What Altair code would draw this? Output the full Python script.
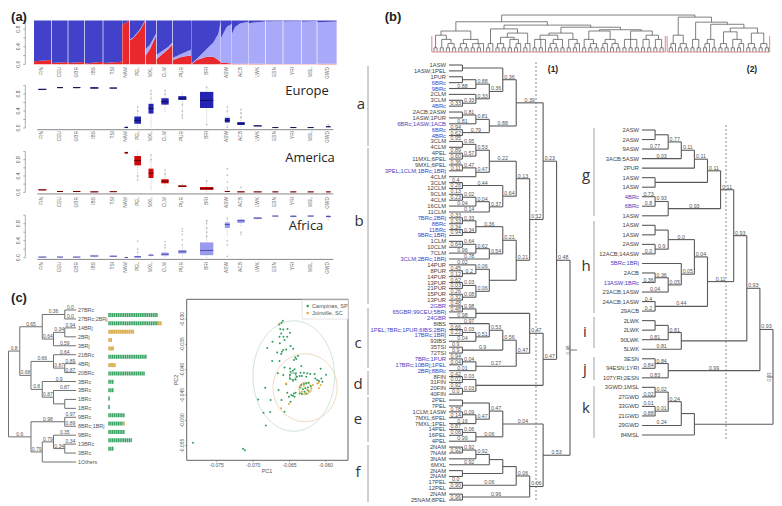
import math
import altair as alt
import pandas as pd

alt.data_transformers.disable_max_rows()

FONT = "Liberation Sans"
W, H = 766, 496
BLUE = "#4343c4"

def N(level, label, *kids):
    return ("node", level, label, kids)

def T(name, label=""):
    return ("tip", 0, label, name)

# ---------- panel (a) values ----------
POPS = ["FIN","CEU","GBR","IBS","TSI","NAM","PEL","MXL","CLM","PUR","BRI","ASW","ACB","LWK","ESN","YRI","MSL","GWD"]
POP_POS = [127,180,230,283,340,379,413,453,495,547,620,682,723,773,826,880,932,985]
BOX_W = [24,18,22,24,22,10,20,15,22,24,40,15,22,24,18,18,18,14]

STACK_POP = ["FIN","FIN","CEU","CEU","GBR","GBR","IBS","IBS","TSI","TSI","NAM","NAM",
             "PEL","PEL","PEL","PEL","MXL","MXL","MXL","CLM","CLM","CLM","CLM","PUR","PUR","PUR",
             "BRI","BRI","BRI","BRI","BRI","BRI","ASW","ASW","ASW","ACB","ACB","ACB","ACB",
             "LWK","LWK","ESN","ESN","YRI","YRI","MSL","MSL","GWD","GWD"]
STACK_X = [102,153,155,203,205,253,255,308,310,366,367,388,
           390,400,420,435,437,450,468,470,490,505,517,519,545,573,
           574,590,620,640,655,662,663,680,695,696,705,720,745,
           746,795,797,848,850,903,905,950,952,1010]
STACK_RED = [.07,.10,.03,.05,.03,.05,.02,.06,.03,.06,.90,1.0,
             .55,.60,.78,.98,.20,.35,.65,.12,.25,.35,.45,.10,.17,.20,
             .0,.10,.17,.17,.10,.05,.03,.03,.02,.02,.01,.01,.01,
             .01,.01,.005,.005,.005,.005,.005,.005,.01,.01]
STACK_LIGHT = [.07,.10,.03,.05,.03,.05,.02,.06,.03,.06,.90,1.0,
               .57,.62,.80,1.0,.35,.45,.70,.22,.32,.40,.50,.15,.24,.33,
               .02,.12,.35,.50,.70,.97,.60,.85,.92,.70,.85,.93,.97,
               .94,.98,.98,.99,.98,.99,.97,.99,.96,.975]

EUROPE = [(.90,.91,.92,.88,.93),(.94,.95,.96,.93,.97),(.94,.95,.96,.92,.97),(.93,.94,.96,.90,.97),(.93,.94,.95,.92,.96),
          (0,.01,.03,0,.05),(.10,.18,.27,0,.5),(.34,.46,.57,.02,.88),(.55,.62,.70,.38,.88),(.66,.70,.75,.24,.86),
          (.47,.65,.85,.08,.96),(.13,.18,.24,.02,.5),(.07,.10,.14,.02,.44),(.04,.05,.06,.03,.07),(.01,.01,.02,0,.03),
          (.01,.01,.02,0,.03),(.005,.01,.015,0,.02),(.02,.03,.035,.01,.08)]
AMERICA = [(.05,.06,.07,.03,.09),(.01,.02,.03,0,.03),(.01,.02,.03,0,.04),(.005,.01,.02,0,.03),(.01,.015,.02,0,.03),
           (.95,.97,.99,.9,1),(.66,.78,.89,.3,1),(.35,.47,.58,.05,.92),(.22,.27,.32,.1,.55),(.13,.15,.17,.08,.24),
           (.06,.09,.13,0,.28),(.01,.02,.03,0,.1),(.005,.01,.02,0,.05),(.005,.01,.015,0,.02),(.005,.01,.015,0,.02),
           (.005,.01,.015,0,.02),(.005,.01,.015,0,.02),(.005,.01,.015,0,.02)]
AFRICA = [(.01,.015,.02,0,.03),(.01,.015,.02,0,.03),(.01,.015,.02,0,.03),(.03,.04,.05,.01,.07),(.03,.035,.045,.01,.05),
          (0,.005,.01,0,.03),(.005,.02,.04,0,.1),(.05,.06,.07,.03,.1),(.05,.08,.12,.01,.22),(.1,.14,.18,.03,.27),
          (.06,.17,.36,0,.75),(.70,.78,.83,.52,.93),(.82,.87,.90,.75,.95),(.92,.93,.95,.9,.96),(.97,.98,.99,.96,1),
          (.96,.975,.99,.94,1),(.97,.98,.99,.96,1),(.95,.97,.99,.88,1)]
OUT_EUROPE = {"PUR":[.24,.3,.4,.55],"MXL":[.7,.8,.88],"PEL":[.4,.5],"CLM":[.8,.88],"BRI":[.96,.08],"ASW":[.02,.4,.5],"ACB":[.25,.35,.44],"GWD":[.08]}
OUT_AMERICA = {"ASW":[.12,.25,.42,.58],"BRI":[.28],"ACB":[.12],"PEL":[.3,.4],"CLM":[.45,.55],"MXL":[.8,.92]}
OUT_AFRICA = {"PEL":[.13,.2,.39],"CLM":[.25,.3,.38],"PUR":[.3,.42,.55,.62,.68],"BRI":[.5,.6,.7,.8,.85,.88],"ASW":[.03,.3,.4,.93],"ACB":[.55,.6]}

# ---------- panel (b) trees ----------
TREE1A = N(5,"0.39",
    N(4,"0.36", N(1,"",T("1ASW"),T("1ASW;1PEL")),
        N(3,"0.36",
          N(2,"0.88",N(1,"",T("1PUR"),T("6BRc")),T("9BRc","0.88")),
          N(2,"0.33",T("2CLM"),N(1,"0.33",T("3CLM"),T("4BRc","0.33"))))),
    N(3,"0.88",
      N(2,"0.81",N(1,"0.81",T("2ACB;2ASW"),T("1ASW;1PUR")),T("6BRc;1ASW;1ACB","0.81")),
      N(1,"0.79",T("6BRc","0.94"),T("4BRc","0.62"))))
TREE1B = N(5,"0.13",
    N(3,"0.22",
      N(2,"0.53",N(1,"0.95",T("3CLM","0.95"),T("4CLM")),N(1,"0.57",T("4PEL","0.89"),T("11MXL;6PEL","0.60"))),
      N(2,"0.47",N(1,"0.47",T("9MXL;6PEL","0.36"),T("3PEL;1CLM;1BRc;1BRj","0.11")),T("4CLM"))),
    N(4,"0.64",N(1,"0.44",T("3CLM","0.4"),T("12CLM","0.26")),
      N(3,"0.37",N(2,"0.04",N(1,"0.02",T("9CLM","0.13"),T("4CLM","0.23")),T("16CLM","0.04")),T("11CLM","0.14"))))
TREE1C = N(5,"0.21",
    N(4,"0.21",
      N(2,"0.36",N(1,"0.33",T("7BRc;2BRj","0.33"),T("8BRc","0.33")),N(1,"0.34",T("11BRc","0.34"),T("9BRc;1BRj","0.94"))),
      N(3,"0.54",N(2,"0.62",N(1,"0.64",T("1CLM"),T("10CLM","0.64")),T("7CLM","0.96")),T("3CLM;2BRc;1BRj","0.78"))),
    N(3,"",
      N(2,"0.06",T("14PUR","0.02"),N(1,"0.2",T("8PUR","0.45"),T("14PUR","0.12"))),
      N(2,"0.06",N(1,"0.03",T("13PUR","0.62"),T("21PUR","0.03")),N(1,"0.08",T("15PUR","0.26"),T("13PUR","0.32")))))
TREE1D = N(5,"0.47",
    N(4,"0.56",
      N(3,"0.53",T("8IBS","0.97"),
        N(2,"0.51",N(1,"0.03",T("1PEL;7BRc;1PUR;6IBS;2BRj","0.66"),T("17BRc;1BRj","0.22")),T("93IBS","0.04"))),
      N(1,"0.9",T("35TSI","0.9"),T("72TSI","0.9"))),
    N(2,"0.27",N(1,"0.04",T("7BRc;1PUR","0.94"),T("17BRc;10BRj;1PEL","0.04")),T("2BRj;8BRc","0.01")))
TREE1E = N(2,"",
    N(1,"0.03",T("8FIN","0.42"),T("31FIN","0.02")),
    N(1,"0.03",T("20FIN","0.92"),T("40FIN","0.0")))
TREE1F = N(4,"0.04",
    N(3,"0.47",N(1,"",T("2PEL"),T("7PEL")),
      N(2,"0.47",N(1,"0.09",T("1CLM;1ASW","0.78"),T("7MXL;6PEL","0.14")),T("7MXL;1PEL","0.16"))),
    N(2,"0.06",N(1,"0.06",T("14PEL","0.87"),T("16PEL","0.06")),T("4PEL","0.99")))
TREE1G = N(6,"0.06",
    N(5,"0.06",
      N(4,"",N(3,"",N(2,"0.92",N(1,"0.92",T("2NAM"),T("7NAM","0.92")),T("3NAM")),T("6MXL","0.92")),
        N(1,"",T("2NAM"),T("2NAM"))),
      N(1,"0.06",T("17PEL","0.0"),T("12PEL","0.90"))),
    N(1,"0.96",T("2NAM"),T("25NAM;8PEL","0.96")))
TREE1 = N(9,"",
    N(8,"0.48",
      N(7,"0.23",TREE1A,N(6,"0.12",TREE1B,TREE1C)),
      N(7,"0.47",N(6,"0.47",N(2,"",N(1,"0.98",T("2GBR","0.48"),T("65GBR;99CEU;5BRj","0.48")),T("24GBR","0.98")),TREE1D),TREE1E)),
    N(7,"0.53",TREE1F,TREE1G))

TREE2 = N(10,"",
  N(9,"0.93",
    N(8,"0.93",
      N(7,"0.93",
        N(6,"0.11",
          N(5,"0.11",
            N(4,"0.11",N(3,"0.11",N(2,"0.77",N(1,"",T("2ASW"),T("2ASW")),T("9ASW","0.77")),T("3ACB;5ASW","0.03")),T("2PUR")),
            N(1,"",T("1ASW"),T("1ASW"))),
          N(2,"0.93",N(1,"0.93",T("4BRc","0.73"),T("6BRc","0.8")),T("1ASW"))),
        N(5,"0.11",
          N(4,"0.04",
            N(2,"0.0",N(1,"",T("1ASW"),T("1ASW")),N(1,"0.9",T("2ASW"),T("12ACB;14ASW","0.0"))),
            N(3,"0.05",T("5BRc;1BRj"),N(2,"0.05",N(1,"0.36",T("2ACB"),T("13ASW;1BRc","0.36")),T("23ACB;1ASW","0.04")))),
          N(1,"0.44",T("24ACB;1ASW","0.4"),T("29ACB","0.2")))),
      N(3,"",N(2,"0.81",N(1,"",T("2LWK"),T("2LWK")),T("90LWK","0.81")),T("5LWK","0.81"))),
    N(2,"0.99",N(1,"0.84",T("3ESN"),T("94ESN;1YRI","0.84")),T("107YRI;2ESN","0.83"))),
  N(4,"",
    N(3,"",N(2,"0.24",N(1,"0.02",T("3GWD;1MSL"),T("27GWD","0.02")),N(1,"0.01",T("33GWD","0.01"),T("21GWD","0.88"))),T("29GWD","0.24")),
    T("84MSL")))

def C(): return (1,[0,0])
def N2a(): return (2,[C(),0])
def N2b(): return (2,[C(),C()])
TOP_A = (5,[(4,[C(),(3,[C(),N2b()])]),(3,[N2b(),(2,[C(),C(),0])])])
TOP_B = (5.5,[N2a(),(4.5,[(3.5,[N2b(),(3,[C(),N2a()])]),N2a()])])
TOP_C = (4.5,[(4,[(3,[C(),C(),0]),(3,[N2b(),C()])]),(3,[C(),N2a()])])
TOP_D = (5,[(3,[C(),N2b()]),(3,[N2a(),N2b()])])
TOP_E = (5,[(3,[C(),C(),C()]),(4,[(3,[C(),C()]),(3,[C(),C()])])])
TOP_L = (7.2,[TOP_A,(6.4,[TOP_B,(5.9,[TOP_C,(5.3,[TOP_D,TOP_E])])])])
TOP_R = (8.3,[(4,[N2a(),N2b()]),(7.1,[(3,[C(),C()]),(6.6,[(3,[N2a(),C()]),(5.7,[(4.8,[N2b(),(3,[C(),N2a()])]),(4.5,[N2b(),N2b()])])])])])
TOP_H = 8.8

# ---------- panel (c) values ----------
C_TREE = N(6,"",
  N(5,"0.8",
    N(3,"0.65",
      N(1,"0.36",T("27BRc","0.0"),T("27BRc;2BRj","0.0")),
      N(2,"0.64",N(1,"0.34",T("14BRj","0.94"),T("2BRj")),T("3BRj","0.59"))),
    N(4,"0.68",
      N(2,"0.66",T("21BRc","0.64"),N(1,"0.87",T("4BRj","0.89"),T("20BRc","0.87"))),
      N(3,"0.8",T("3BRc","0.9"),N(2,"0.87",T("3BRc","0.87"),N(1,"",T("1BRc"),T("1BRc")))))),
  N(4,"0.6",
    N(1,"0.98",T("9BRc","0.97"),T("8BRc;1BRj","0.89")),
    N(3,"0.79",N(2,"0.79",T("9BRc","0.35"),N(1,"0.34",T("13BRc","0.34"),T("3BRc"))),T("1Others"))))
C_GREEN = [27,27,0,0,0,21,0,20,3,3,1,1,9,8,9,13,3,0]
C_ORANGE = [0,2,14,2,3,0,4,0,0,0,0,0,0,1,0,0,0,0]

PC_GREEN_1 = [-65.92,-66.10,-66.42,-66.28,-65.87,-65.28,-64.95,-66.15,-66.38,-65.83,-65.32,-65.69,-67.34,-66.33,-64.86,-68.07,-65.46,-64.50,-66.06,-66.70,-66.15,-65.87,-63.85,-64.22,-64.40,-66.38,-67.39,-64.08,-63.39,-60.73,-65.69,-64.95,-64.31,-63.49,-63.03,-62.57,-62.16,-61.56,-60.00,-66.61,-65.87,-63.62,-63.30,-62.71,-61.47,-61.19,-60.96,-60.64,-60.50,-64.86,-64.54,-64.13,-63.99,-64.17,-64.54,-64.95,-64.95,-68.35,-66.51,-65.46,-65.32,-64.77,-65.09,-64.40,-64.17,-64.54,-64.31,-63.39,-63.03,-62.71,-62.39,-62.11,-62.48,-62.84,-63.17,-63.49,-62.94,-63.30,-63.62,-62.39,-62.71,-69.31,-67.61,-66.10,-64.86,-68.58,-67.66,-65.69,-68.26,-78.26,-71.38,-71.15]
PC_GREEN_2 = [-30.33,-30.72,-31.05,-31.97,-32.04,-31.97,-32.70,-32.83,-33.49,-33.49,-33.49,-34.14,-34.47,-34.80,-35.33,-35.72,-35.99,-35.86,-36.45,-36.58,-36.91,-36.12,-37.30,-37.57,-38.09,-38.29,-38.29,-37.89,-39.28,-39.80,-39.54,-39.74,-39.93,-40.59,-40.59,-40.72,-40.86,-40.86,-40.99,-40.72,-41.05,-41.25,-41.25,-41.38,-41.71,-42.04,-42.24,-41.71,-42.37,-40.39,-40.20,-40.72,-41.38,-41.91,-42.17,-41.78,-41.05,-43.55,-44.01,-42.83,-44.54,-45.00,-45.33,-44.67,-44.54,-45.13,-45.33,-43.03,-42.83,-42.70,-42.57,-43.22,-43.49,-43.68,-43.88,-43.49,-44.34,-44.80,-44.67,-44.14,-44.67,-45.86,-45.99,-45.99,-46.32,-48.49,-48.36,-48.29,-50.99,-54.41,-55.59,-55.92]
PC_ORANGE_1 = [-66.38,-65.46,-66.15,-65.09,-63.58,-63.30,-62.84,-62.39,-62.02,-61.79,-61.19,-60.96,-60.73,-61.01,-63.03,-62.57]
PC_ORANGE_2 = [-30.86,-42.70,-47.63,-46.78,-43.36,-44.34,-44.67,-44.34,-43.68,-43.03,-42.70,-43.68,-43.03,-42.57,-43.22,-44.01]
# centre PC1, centre PC2, half-width, half-height, colour
ELLIPSES = [(-64.43,-41.25,5.6,10.9,"#cfe5dc"),(-62.87,-43.55,4.4,6.7,"#efdcc0"),
            (-64.54,-41.3,0.45,0.65,"#2e9e5b"),(-62.85,-43.7,0.85,1.2,"#e0a840")]
PC1_TICKS = [-75,-70,-65,-60]
PC2_TICKS = [-30,-35,-40,-45,-50,-55]

# ---------- helpers ----------
def sc(dom, px):
    return alt.Scale(domain=dom, range=[px[0]-8, px[1]-8], nice=False, zero=False)
def XQ(f, dom, px): return alt.X(f, type="quantitative", scale=sc(dom, px), axis=None)
def YQ(f, dom, px): return alt.Y(f, type="quantitative", scale=sc(dom, px), axis=None)
FIGX, FIGY = ([0,782],[0,782]), ([0,506],[0,506])

layers = []

def rules(df, xs, ys, **mark):
    layers.append(alt.Chart(df).mark_rule(**mark).encode(
        x=XQ("x", *xs), x2=alt.X2("x2"), y=YQ("y", *ys), y2=alt.Y2("y2")))

def texts(df, xs, ys, color=None, **mark):
    mark.setdefault("font", FONT)
    enc = dict(x=XQ("x", *xs), y=YQ("y", *ys), text=alt.Text("t:N"))
    if color:
        enc["color"] = alt.Color("c:N", scale=None, legend=None)
    layers.append(alt.Chart(df).mark_text(**mark).encode(**enc))

def fig_text(items, **mark):
    texts(pd.DataFrame(items, columns=["x","y","t"]), FIGX, FIGY, **mark)

def fig_rules(items, **mark):
    rules(pd.DataFrame(items, columns=["x","y","x2","y2"]), FIGX, FIGY, **mark)

def walk(tree):
    segs, sup, tips = [], [], []
    def rec(n, parent):
        if n[0] == "tip":
            r = len(tips) + 1
            tips.append((r, n[3]))
            segs.append((0, r, parent, r))
            if n[2]:
                sup.append((parent/2, r, n[2]))
            return r
        ys = [rec(k, n[1]) for k in n[3]]
        y = (ys[0] + ys[-1]) / 2
        segs.append((n[1], ys[0], n[1], ys[-1]))
        if parent is not None:
            segs.append((n[1], y, parent, y))
            if n[2]:
                sup.append(((n[1]+parent)/2, y, n[2]))
        return y
    rec(tree, None)
    return segs, sup, tips

def draw_tree(tree, dx, px, dy, py, tipsize, supsize, sw=1.0, color="#5a5a5a", left_labels=False):
    segs, sup, tips = walk(tree)
    xs, ys = (dx, px), (dy, py)
    rules(pd.DataFrame(segs, columns=["x","y","x2","y2"]), xs, ys, color=color, strokeWidth=sw)
    texts(pd.DataFrame(sup, columns=["x","y","t"]), xs, ys, fontSize=supsize, fill="#555555", dy=-3)
    t = pd.DataFrame(tips, columns=["y","t"])
    t["x"] = 0
    t["c"] = ["#555555" if left_labels else (BLUE if "BR" in s else "#444444") for s in t["t"]]
    if left_labels:
        texts(t, xs, ys, color=True, fontSize=tipsize, align="left", dx=2)
    else:
        texts(t, xs, ys, color=True, fontSize=tipsize, align="right", dx=-3)

# ---------- panel (a) ----------
XA = ([0,1110],[0,370])
stack = pd.DataFrame(dict(x=STACK_X, pop=STACK_POP, red=STACK_RED, light=STACK_LIGHT, top=[1.0]*len(STACK_X), base=[0.0]*len(STACK_X)))
YT = ([0,1],[64.3,20.5])
for lo, hi, col in [("base","red","#e8282c"),("red","light","#a9a9f9"),("light","top","#4141c9")]:
    layers.append(alt.Chart(stack).mark_area(color=col, opacity=1).encode(
        x=XQ("x",*XA), y=YQ(lo,*YT), y2=alt.Y2(hi), detail="pop:N"))

def y_axis(ys):
    ticks = [0,.2,.4,.6,.8,1.0]
    px = 25.3*3
    d = pd.DataFrame([(px-6,v,px,v) for v in ticks]+[(px,0,px,1)], columns=["x","y","x2","y2"])
    rules(d, XA, ys, color="#777777", strokeWidth=0.6)
    l = pd.DataFrame([(55,v,f"{v:.1f}") for v in (0,.4,.8)], columns=["x","y","t"])
    texts(l, XA, ys, fontSize=5, angle=270, fill="#555555")

def pop_labels(top):
    l = pd.DataFrame(dict(x=POP_POS, y=[top]*len(POPS), t=POPS))
    texts(l, XA, FIGY, fontSize=4.8, angle=270, align="right", fill="#666666")

y_axis(YT)
pop_labels(67)

def boxes(vals, outl, ys, box, med):
    df = pd.DataFrame(vals, columns=["q1","m","q3","lo","hi"])
    df["c"] = POP_POS
    df["a"] = [p-w/2 for p, w in zip(POP_POS, BOX_W)]
    df["b"] = [p+w/2 for p, w in zip(POP_POS, BOX_W)]
    layers.append(alt.Chart(df).mark_rule(color="#b5b5b5", strokeWidth=0.7, strokeDash=[1,1]).encode(
        x=XQ("c",*XA), y=YQ("lo",*ys), y2=alt.Y2("hi")))
    o = pd.DataFrame([(POP_POS[POPS.index(k)], v) for k, vs in outl.items() for v in vs], columns=["x","y"])
    layers.append(alt.Chart(o).mark_point(shape="circle", size=3, color="#aaaaaa", filled=True).encode(
        x=XQ("x",*XA), y=YQ("y",*ys)))
    layers.append(alt.Chart(df).mark_rect(color=box).encode(
        x=XQ("a",*XA), x2=alt.X2("b"), y=YQ("q1",*ys), y2=alt.Y2("q3")))
    layers.append(alt.Chart(df).mark_rule(color=med, strokeWidth=1).encode(
        x=XQ("a",*XA), x2=alt.X2("b"), y=YQ("m",*ys)))
    base = pd.DataFrame([(112,-0.04,1000,-0.04)], columns=["x","y","x2","y2"])
    rules(base, XA, ys, color="#888888", strokeWidth=1)
    y_axis(ys)

boxes(EUROPE, OUT_EUROPE, ([0,1],[128,85.5]), "#2323b5", "#10104a")
pop_labels(131)
boxes(AMERICA, OUT_AMERICA, ([0,1],[192.3,151.5]), "#cc0a0a", "#6a0505")
pop_labels(197)
boxes(AFRICA, OUT_AFRICA, ([0,1],[257.7,215.2]), "#9a9aee", "#5252a8")
pop_labels(262)

# ---------- panel (b) top dendrogram ----------
segs_top = []
counter = [0]
def top_rec(n):
    if n == 0:
        x = counter[0]
        counter[0] += 1
        return x, 0
    h, kids = n
    pts = [top_rec(k) for k in kids]
    for x, ch in pts:
        segs_top.append((x, ch, x, h))
    segs_top.append((pts[0][0], h, pts[-1][0], h))
    return (pts[0][0]+pts[-1][0])/2, h
counter[0] = 0
xl, hl = top_rec(TOP_L)
counter[0] = 76
xr, hr = top_rec(TOP_R)
segs_top += [(xl,hl,xl,TOP_H),(xr,hr,xr,TOP_H),(xl,TOP_H,xr,TOP_H)]
XD = ([0,109],[434,771.5])
YD = ([0,10],[52,10])
rules(pd.DataFrame(segs_top, columns=["x","y","x2","y2"]), XD, YD, color="#5f5f5f", strokeWidth=0.8)
BRACKET = [(-0.7,0,74.7,0),(-0.7,0,-0.7,3.8),(74.7,0,74.7,3.8),(75.3,0,108.4,0),(75.3,0,75.3,3.8),(108.4,0,108.4,3.8)]
rules(pd.DataFrame(BRACKET, columns=["x","y","x2","y2"]), XD, YD, color="#d98a8e", strokeWidth=1)

# ---------- panel (b) trees ----------
fig_rules([(536,62,536,500),(726,125,726,440)], color="#c4c4c4", strokeWidth=2, strokeDash=[2,2])
draw_tree(TREE1, [0,9], [449,570], [1,75], [65,500], 5.8, 5.3, sw=1.1)
draw_tree(TREE2, [0,10], [642,773], [1,33], [130,435], 5.8, 5.3, sw=1.1)
fig_rules([(570,350,577,350),(767,377,773,377)], color="#555555", strokeWidth=0.8)
fig_text([(569,350,"0.48"),(770,377,"0.93")], fontSize=4.5, angle=270, fill="#666666")

fig_text([(553,69,"(1)"),(752,69,"(2)")], fontSize=8.5, fontWeight="bold", fill="#222222")

fig_rules([(368,66,368,146),(368,148,368,304),(368,308,368,368),(368,371,368,395),(368,397,368,442),(368,445,368,502),
           (594,128,594,216),(594,221,594,313),(594,317,594,348),(594,357,594,380),(594,386,594,438)],
          color="#888888", strokeWidth=0.8)
fig_text([(361,104,"a"),(359,221,"b"),(358,343,"c"),(358,384,"d"),(358,419,"e"),(358,472,"f"),
          (586,175,"g"),(586,266,"h"),(585,332,"i"),(585,369,"j"),(586,408,"k")],
         fontSize=15, font="Open Sans", fill="#333333")
fig_text([(307,91,"Europe"),(310,158,"America"),(306,226,"Africa")], fontSize=13, font="Open Sans", fill="#222222")
fig_text([(19,17,"(a)"),(393,17,"(b)"),(19,298,"(c)")], fontSize=13, fontWeight="bold", fill="#222222")

# ---------- panel (c) tree and bars ----------
draw_tree(C_TREE, [0,6], [76,8.5], [1,18], [310,462], 5.4, 5, sw=1.0, color="#707070", left_labels=True)
cells = []
for i, (g, o) in enumerate(zip(C_GREEN, C_ORANGE)):
    for k in range(g):
        cells.append((i+1, k, k+0.8, "#37a262"))
    for k in range(g, g+o):
        cells.append((i+1, k, k+1, "#dcb057"))
cd = pd.DataFrame(cells, columns=["r","a","b","c"])
XB, YB = ([0,27],[108.3,158]), ([1,18],[310,462])
layers.append(alt.Chart(cd).mark_bar(size=4).encode(
    x=XQ("a",*XB), x2=alt.X2("b"), y=YQ("r",*YB),
    color=alt.Color("c:N", scale=None, legend=None)))

# ---------- panel (c) PCA ----------
XP = ([-79.12,-56.98],[186.7,348])
YP = ([-57.88,-26.1],[460.3,299.3])
for cx, cy, a, b, col in ELLIPSES:
    rows = [(i, cx+a*math.cos(i*math.pi/36), cy+b*math.sin(i*math.pi/36)) for i in range(73)]
    e = pd.DataFrame(rows, columns=["i","x","y"])
    layers.append(alt.Chart(e).mark_line(color=col, strokeWidth=1).encode(
        x=XQ("x",*XP), y=YQ("y",*YP), order="i:Q"))
for a, b, col in [(PC_GREEN_1, PC_GREEN_2, "#2e9e5b"), (PC_ORANGE_1, PC_ORANGE_2, "#e5a73a")]:
    layers.append(alt.Chart(pd.DataFrame(dict(x=a, y=b))).mark_point(shape="circle", size=4, filled=True, opacity=1, color=col).encode(
        x=XQ("x",*XP), y=YQ("y",*YP)))
frame = pd.DataFrame(dict(x=[-79.12],x2=[-56.98],y=[-57.88],y2=[-26.1]))
layers.append(alt.Chart(frame).mark_rect(fillOpacity=0, stroke="#666666", strokeWidth=1).encode(
    x=XQ("x",*XP), x2=alt.X2("x2"), y=YQ("y",*YP), y2=alt.Y2("y2")))
tick_x = pd.DataFrame([(v,-57.88,v,-58.2) for v in PC1_TICKS], columns=["x","y","x2","y2"])
tick_y = pd.DataFrame([(-79.12,v,-79.35,v) for v in PC2_TICKS], columns=["x","y","x2","y2"])
rules(tick_x, XP, YP, color="#666666", strokeWidth=0.6)
rules(tick_y, XP, YP, color="#666666", strokeWidth=0.6)
lx = pd.DataFrame(dict(x=PC1_TICKS, t=[f"{v/1000:.3f}" for v in PC1_TICKS]))
lx["y"] = -58.9
texts(lx, XP, YP, fontSize=5, fill="#555555")
ly = pd.DataFrame(dict(y=PC2_TICKS, t=[f"{v/1000:.3f}" for v in PC2_TICKS]))
ly["x"] = -79.8
texts(ly, XP, YP, fontSize=5, angle=270, fill="#555555")
fig_text([(267,471,"PC1")], fontSize=5.5, fill="#555555")
fig_text([(176,380,"PC2")], fontSize=5.5, angle=270, fill="#555555")

legend_box = pd.DataFrame(dict(x=[302],x2=[348],y=[300],y2=[319]))
layers.append(alt.Chart(legend_box).mark_rect(fill="#ffffff", stroke="#dddddd", strokeWidth=0.8).encode(
    x=XQ("x",*FIGX), x2=alt.X2("x2"), y=YQ("y",*FIGY), y2=alt.Y2("y2")))
for yy, col, name in [(306,"#2e9e5b","Campinas, SP"),(313,"#e5a73a","Joinville, SC")]:
    layers.append(alt.Chart(pd.DataFrame(dict(x=[307.7],y=[yy]))).mark_point(shape="circle", size=6, filled=True, opacity=1, color=col).encode(
        x=XQ("x",*FIGX), y=YQ("y",*FIGY)))
    fig_text([(312,yy,name)], fontSize=5.6, align="left", fill="#555555")

chart = alt.layer(*layers).resolve_scale(x="independent", y="independent", color="independent").properties(
    width=W, height=H, padding=0, autosize=alt.AutoSizeParams(type="none"),
    background="white").configure_view(stroke=None)
chart.save("out.html", embed_options={"renderer": "svg", "actions": False})
